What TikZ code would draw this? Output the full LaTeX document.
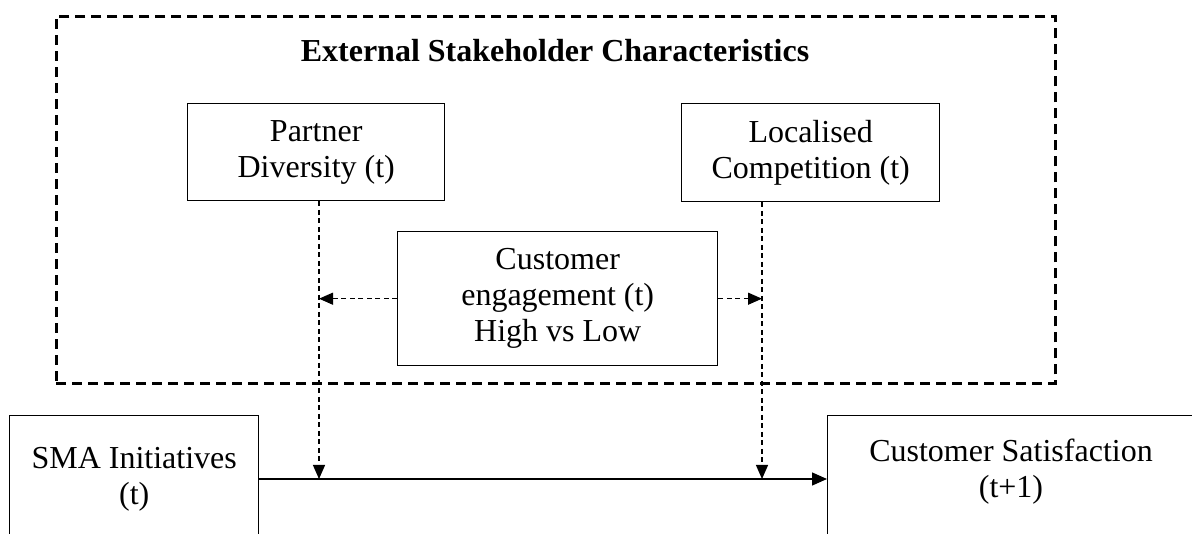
\documentclass[tikz,border=0pt]{standalone}
\usepackage{fontspec}
\setmainfont{Liberation Serif}
\usetikzlibrary{arrows.meta}
\begin{document}
\begin{tikzpicture}[x=1pt,y=-1pt,
  box/.style={draw, line width=1.4pt, align=center, inner sep=0pt, anchor=north west,
              font=\fontsize{32}{36}\selectfont},
  txt/.style={align=center, inner sep=0pt, font=\fontsize{32}{36}\selectfont},
  outerbox/.style={draw, line width=2.6pt, dash pattern=on 10pt off 6pt, inner sep=0pt, anchor=north west},
  modline/.style={line width=1.2pt, dash pattern=on 5pt off 3.5pt,
                  -{Triangle[length=14pt,width=12pt]}},
  mainline/.style={line width=1.4pt, -{Triangle[length=15pt,width=13pt]}}]
\useasboundingbox (0,0) rectangle (1192,534);
\clip (0,0) rectangle (1192,534);
\fill[white] (0,0) rectangle (1192,534);

% external stakeholder frame
\node[outerbox, minimum width=999pt, minimum height=367pt] (ext) at (55,15) {};
\node[txt, font=\fontsize{32}{36}\selectfont\bfseries, anchor=base] (title) at (555,62) {External Stakeholder Characteristics};

% moderators
\node[box, minimum width=257pt, minimum height=97pt] (pd) at (187,103) {Partner\\Diversity (t)};
\node[box, minimum width=258pt, minimum height=98pt] (lc) at (681,103) {Localised\\Competition (t)};
\node[box, minimum width=320pt, minimum height=134pt] (ce) at (397,231) {Customer\\engagement (t)\\High vs Low};

% main constructs
\node[box, minimum width=249pt, minimum height=128pt] (sma) at (9,415) {SMA Initiatives\\(t)};
\node[box, minimum width=420pt, minimum height=150pt] (cs) at (827,415) {};
\node[txt] (cstext) at (1011,472) {Customer Satisfaction\\(t+1)};

% points on the main path
\coordinate (mA) at (319,479);
\coordinate (mB) at (762,479);

% main effect
\draw[mainline] (sma.east |- mA) -- (mA -| cs.west);

% moderating effects
\draw[modline] (pd.south -| mA) -- (mA);
\draw[modline] (lc.south -| mB) -- (mB);
\draw[modline] (ce.west) -- (ce.west -| mA);
\draw[modline] (ce.east) -- (ce.east -| mB);
\end{tikzpicture}
\end{document}
